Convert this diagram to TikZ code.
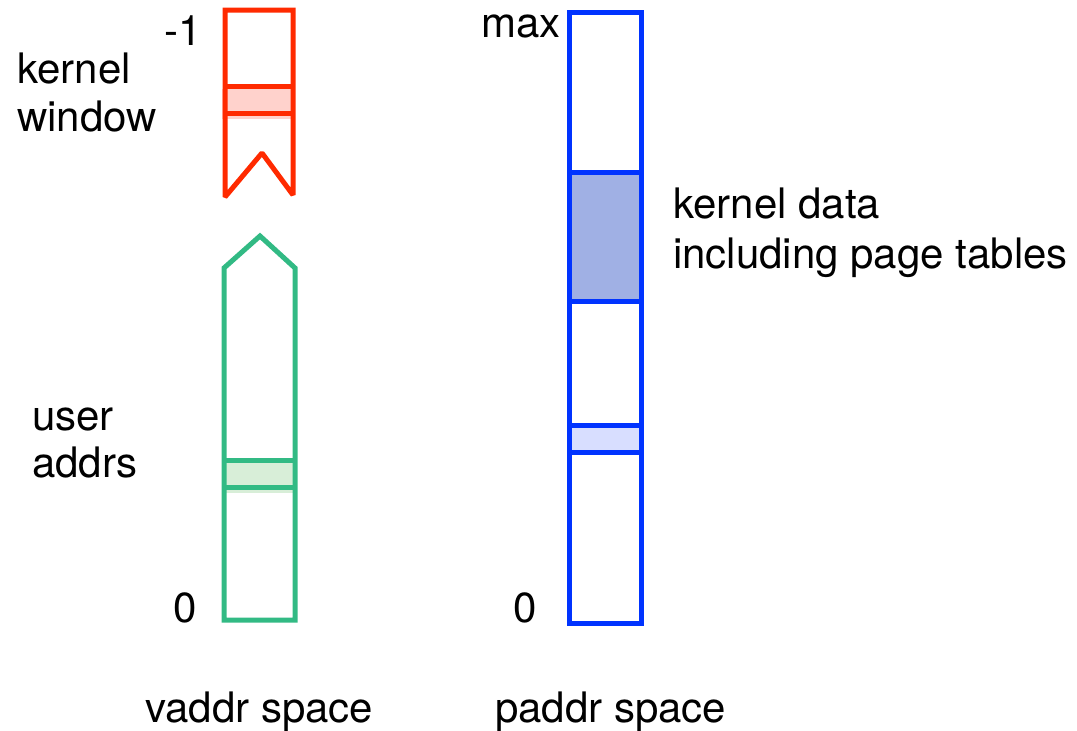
\documentclass[tikz,border=0pt]{standalone}
\usepackage{fontspec}
\setmainfont{TeX Gyre Heros}
\definecolor{kred}{RGB}{255,42,0}
\definecolor{kredfill}{RGB}{255,210,204}
\definecolor{ugreen}{RGB}{50,186,132}
\definecolor{ugreenfill}{RGB}{216,238,216}
\definecolor{pblue}{RGB}{0,51,255}
\definecolor{pbluedark}{RGB}{160,176,228}
\definecolor{pbluelight}{RGB}{216,222,255}
\tikzset{
  outline/.style={line width=5pt, line join=miter, miter limit=1.5},
  lbl/.style={inner sep=0pt, font=\fontsize{42}{50}\selectfont},
}
\begin{document}
\begin{tikzpicture}[x=1pt, y=-1pt]
\useasboundingbox (0,0) rectangle (1077,731);

% virtual address space: kernel window (top part)
\fill[kredfill] (222,89) rectangle (294,119);
\draw[outline, kred] (225,197) -- (225,10) -- (293,10) -- (293,195) -- (262,153) -- cycle;
\draw[outline, kred] (225,86) -- (293,86);
\draw[outline, kred] (225,113) -- (293,113);

% virtual address space: user part (bottom)
\fill[ugreenfill] (222,462) rectangle (293,493);
\draw[outline, ugreen] (224,620) -- (224,268) -- (260,236) -- (295,268) -- (295,620) -- cycle;
\draw[outline, ugreen] (224,460) -- (295,460);
\draw[outline, ugreen] (224,487) -- (295,487);

% physical address space
\fill[pbluelight] (569,428) rectangle (641,455);
\draw[outline, pblue, fill=pbluedark] (569,172) rectangle (641,301);
\draw[outline, pblue] (569,12) rectangle (641,623);
\draw[outline, pblue] (569,425) -- (641,425);
\draw[outline, pblue] (569,452) -- (641,452);

% labels
\node[lbl, anchor=base east] (vtop) at (202,45) {-1};
\node[lbl, anchor=base west] (kw1) at (17,83) {kernel};
\node[lbl, anchor=base west] (kw2) at (17,131) {window};
\node[lbl, anchor=base west] (ua1) at (32,430) {user};
\node[lbl, anchor=base west] (ua2) at (32,477) {addrs};
\node[lbl, anchor=base] (vzero) at (185,622) {0};
\node[lbl, anchor=base west] (vname) at (145,722) {vaddr space};

\node[lbl, anchor=base east] (pmax) at (561,37) {max};
\node[lbl, anchor=base west] (kd1) at (673,218) {kernel data};
\node[lbl, anchor=base west] (kd2) at (673,268) {including page tables};
\node[lbl, anchor=base] (pzero) at (525,622) {0};
\node[lbl, anchor=base west] (pname) at (495,722) {paddr space};
\end{tikzpicture}
\end{document}
